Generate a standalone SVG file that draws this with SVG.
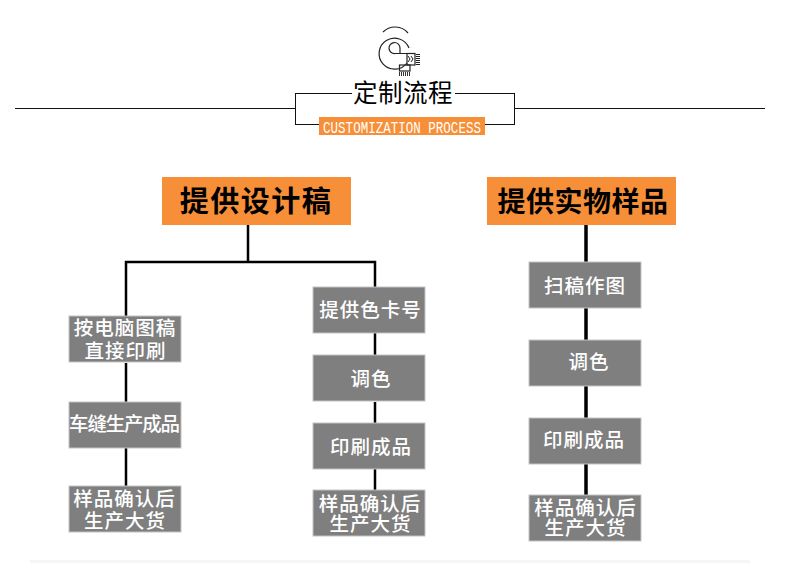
<svg xmlns="http://www.w3.org/2000/svg" width="790" height="563" viewBox="0 0 790 563">
<style>
text{font-family:"Noto Sans CJK SC","Liberation Sans",sans-serif;text-anchor:middle}
.o{fill:#f78f38}
.g{fill:#7f7f7f;stroke:#c4c4c4;stroke-width:1}
.h{font-size:29px;font-weight:700;fill:#000;letter-spacing:1.500px}
.t{font-size:19.500px;fill:#fff;font-weight:500;letter-spacing:1px}
.c{fill:none;stroke:#000;stroke-width:2.500}
.i{fill:none;stroke:#222;stroke-width:1.200}
</style>
<rect width="790" height="563" fill="#fff"/>
<rect x="30" y="560" width="720" height="3" fill="#f6f6f6"/>
<g id="header">
<path d="M15 108.500H296M515 108.500H765" fill="none" stroke="#111" stroke-width="1"/>
<rect x="295.500" y="93.500" width="219" height="31" fill="none" stroke="#111" stroke-width="1"/>
<rect x="352" y="80" width="103" height="26" fill="#fff"/>
<text x="403" y="102" font-size="24.500" fill="#000" letter-spacing="0.500" style="font-weight:400">定制流程</text>
<rect x="319" y="117" width="166" height="18" fill="#f78f38"/>
<text transform="translate(402 132.500) scale(0.76 1)" font-size="16.500" fill="#fff" style="font-family:'Liberation Mono',monospace">CUSTOMIZATION PROCESS</text>
</g>
<g id="icon">
<path class="i" d="M383 32A17 17 0 0 1 408 33"/>
<path class="i" d="M407 63A15.500 15.500 0 1 1 409 48"/>
<path class="i" d="M408 53.500H395A5.500 5.500 0 1 1 400 48V53"/>
<rect class="i" x="407" y="53.500" width="8" height="11.500"/>
<path d="M408 56l2 3-2 3M411 56l2 3-2 3" fill="none" stroke="#222" stroke-width="1"/>
<path d="M416 54h4v1h-4zM416 56h4v1h-4zM416 58h4v1h-4zM416 60h4v1h-4zM416 62h4v1h-4zM416 64h4v1h-4z" fill="#222"/>
<rect class="i" x="399.500" y="65" width="10.500" height="6"/>
<path d="M399 72h1v4h-1zM401 72h1v4h-1zM403 72h1v4h-1zM405 72h1v4h-1zM407 72h1v4h-1zM409 72h1v4h-1z" fill="#333"/>
</g>
<g id="connectors">
<path class="c" d="M248 225V262M126 316V262H375V287M126 363V402M126 448V486M375 333V355M375 402V423M375 469V490"/>
<path class="c" style="stroke-width:3.500" d="M586 225V262M586 308V340M586 386V418M586 464V495"/>
</g>
<g id="n1"><rect class="o" x="162" y="177" width="189" height="48"/><text class="h" x="256" y="212">提供设计稿</text></g>
<g id="n2"><rect class="o" x="487" y="177" width="189" height="48"/><text class="h" x="583" y="212" style="font-size:28px;letter-spacing:.5px">提供实物样品</text></g>
<g id="a1"><rect class="g" x="69" y="316" width="112" height="46"/><text class="t"><tspan x="125" y="335">按电脑图稿</tspan><tspan x="125.500" y="357.500">直接印刷</tspan></text></g>
<g id="a2"><rect class="g" x="69" y="402" width="112" height="46"/><text class="t" x="124" y="431" style="letter-spacing:-1.200px">车缝生产成品</text></g>
<g id="a3"><rect class="g" x="69" y="486" width="112" height="46"/><text class="t"><tspan x="124.500" y="505.500">样品确认后</tspan><tspan x="125" y="527.500">生产大货</tspan></text></g>
<g id="b1"><rect class="g" x="313" y="287" width="112" height="46"/><text class="t" x="370.500" y="317">提供色卡号</text></g>
<g id="b2"><rect class="g" x="313" y="355" width="112" height="46"/><text class="t" x="371" y="386">调色</text></g>
<g id="b3"><rect class="g" x="313" y="423" width="112" height="46"/><text class="t" x="371" y="453.500">印刷成品</text></g>
<g id="b4"><rect class="g" x="313" y="490" width="112" height="46"/><text class="t"><tspan x="370" y="510.500">样品确认后</tspan><tspan x="370.500" y="531">生产大货</tspan></text></g>
<g id="c1"><rect class="g" x="529" y="262" width="112" height="46"/><text class="t" x="585" y="292.500">扫稿作图</text></g>
<g id="c2"><rect class="g" x="529" y="340" width="112" height="46"/><text class="t" x="589" y="368.500">调色</text></g>
<g id="c3"><rect class="g" x="529" y="418" width="112" height="46"/><text class="t" x="584" y="446.500">印刷成品</text></g>
<g id="c4"><rect class="g" x="529" y="495" width="112" height="46"/><text class="t"><tspan x="585.500" y="514.500">样品确认后</tspan><tspan x="585.500" y="535">生产大货</tspan></text></g>
</svg>
